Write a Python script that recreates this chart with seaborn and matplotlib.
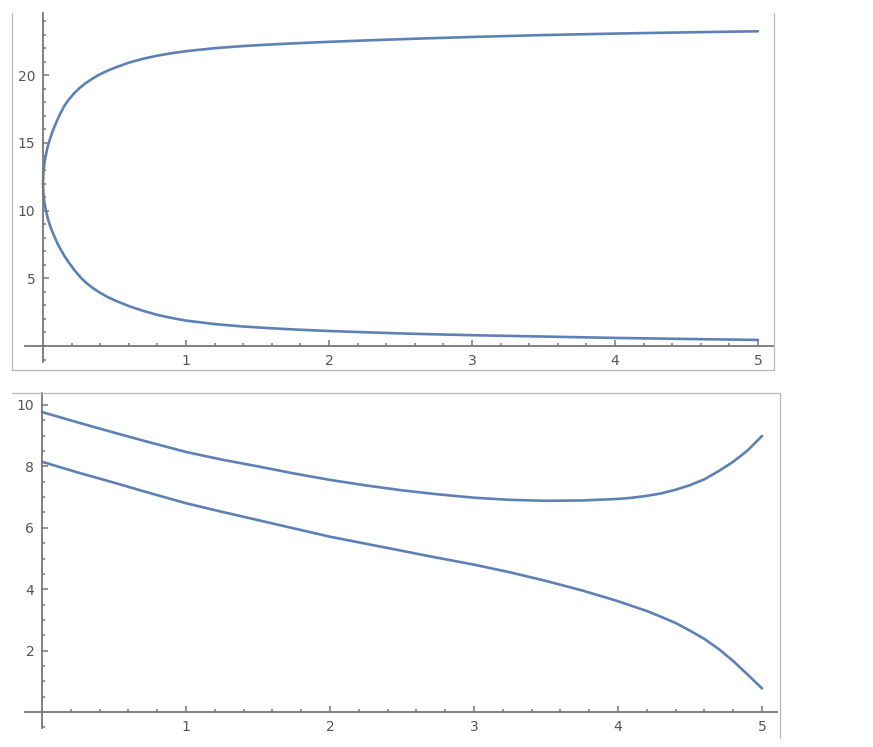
import matplotlib
matplotlib.use("Agg")
import matplotlib.pyplot as plt
from matplotlib.lines import Line2D
from matplotlib.ticker import FixedLocator, MultipleLocator
import seaborn as sns

# ---- data ----
x_top = [0, 0.002, 0.005, 0.01, 0.02, 0.03, 0.04, 0.05, 0.065, 0.08, 0.1, 0.12, 0.15,
         0.18, 0.22, 0.26, 0.3, 0.35, 0.4, 0.45, 0.5, 0.6, 0.7, 0.8, 0.9, 1.0, 1.2, 1.4,
         1.6, 1.8, 2.0, 2.3, 2.6, 3.0, 3.5, 4.0, 4.5, 5.0]
top_upper = [12.0, 12.67, 13.06, 13.5, 14.12, 14.6, 15.0, 15.33, 15.8, 16.2, 16.7, 17.15, 17.75,
             18.2, 18.7, 19.1, 19.43, 19.78, 20.08, 20.33, 20.55, 20.93, 21.22, 21.45, 21.63, 21.78,
             22.0, 22.16, 22.28, 22.38, 22.47, 22.59, 22.7, 22.83, 22.97, 23.08, 23.17, 23.25]
top_lower = [12.0, 11.37, 11.01, 10.6, 10.02, 9.58, 9.2, 8.87, 8.45, 8.08, 7.6, 7.2, 6.65,
             6.17, 5.6, 5.1, 4.68, 4.27, 3.93, 3.63, 3.38, 2.95, 2.6, 2.3, 2.07, 1.88,
             1.62, 1.44, 1.31, 1.2, 1.11, 1.0, 0.9, 0.8, 0.7, 0.6, 0.52, 0.45]

x_bot = [0, 0.25, 0.5, 0.75, 1.0, 1.25, 1.5, 1.75, 2.0, 2.25, 2.5, 2.75, 3.0, 3.25, 3.5,
         3.75, 4.0, 4.1, 4.2, 4.3, 4.4, 4.5, 4.6, 4.7, 4.8, 4.9, 5.0]
bot_upper = [9.77, 9.43, 9.1, 8.78, 8.47, 8.22, 8.0, 7.77, 7.56, 7.38, 7.22, 7.09, 6.98, 6.91, 6.88,
             6.89, 6.94, 6.98, 7.04, 7.12, 7.24, 7.39, 7.58, 7.85, 8.15, 8.52, 8.99]
bot_lower = [8.15, 7.8, 7.47, 7.13, 6.8, 6.52, 6.25, 5.98, 5.71, 5.48, 5.25, 5.02, 4.8, 4.55, 4.27,
             3.96, 3.61, 3.45, 3.29, 3.1, 2.9, 2.65, 2.38, 2.05, 1.66, 1.22, 0.77]

x_major = [1, 2, 3, 4, 5]
top_y_major = [5, 10, 15, 20]
bot_y_major = [2, 4, 6, 8, 10]

sns.set_style("white")
plt.rcParams["font.family"] = ["DejaVu Sans"]

W, H = 873, 747
fig = plt.figure(figsize=(W / 100, H / 100), dpi=100)

LINE = "#5E81B5"
AXC = "#777777"
TXT = "#555555"
BORDER = "#b8b8b8"


def px_axes(x0, y0, x1, y1):
    return fig.add_axes([x0 / W, 1 - y1 / H, (x1 - x0) / W, (y1 - y0) / H])


def style(ax, xlim, ylim, ymaj, ymin_step):
    ax.set_xlim(*xlim)
    ax.set_ylim(*ylim)
    ax.patch.set_alpha(0)
    for s in ("top", "right"):
        ax.spines[s].set_visible(False)
    ax.spines["left"].set_position(("data", 0))
    ax.spines["bottom"].set_position(("data", 0))
    for s in ("left", "bottom"):
        ax.spines[s].set_color(AXC)
        ax.spines[s].set_linewidth(1.3)
    ax.xaxis.set_major_locator(FixedLocator(x_major))
    ax.xaxis.set_minor_locator(MultipleLocator(0.2))
    ax.yaxis.set_major_locator(FixedLocator(ymaj))
    ax.yaxis.set_minor_locator(MultipleLocator(ymin_step))
    ax.tick_params(which="both", direction="in", color=AXC, width=1.1,
                   bottom=True, left=True, top=False, right=False,
                   labelsize=10, labelcolor=TXT)
    ax.tick_params(which="major", length=4.5, pad=5.5)
    ax.tick_params(which="minor", length=2.5)
    ax.set_xlabel("")
    ax.set_ylabel("")


# top panel
ax1 = px_axes(25, 13, 773, 362)
sns.lineplot(x=x_top, y=top_upper, ax=ax1, color=LINE, linewidth=1.9, sort=False, estimator=None)
sns.lineplot(x=x_top, y=top_lower, ax=ax1, color=LINE, linewidth=1.9, sort=False, estimator=None)
style(ax1, (-0.126, 5.105), (-1.18, 24.6), top_y_major, 1)

# bottom panel
ax2 = px_axes(25, 393, 777, 728)
sns.lineplot(x=x_bot, y=bot_upper, ax=ax2, color=LINE, linewidth=1.9, sort=False, estimator=None)
sns.lineplot(x=x_bot, y=bot_lower, ax=ax2, color=LINE, linewidth=1.9, sort=False, estimator=None)
style(ax2, (-0.118, 5.104), (-0.52, 10.39), bot_y_major, 0.5)

# image borders (partial frames as in the reference)
def fline(x0, y0, x1, y1):
    fig.add_artist(Line2D([x0 / W, x1 / W], [1 - y0 / H, 1 - y1 / H],
                          transform=fig.transFigure, color=BORDER, linewidth=0.9))

fline(12, 13, 12, 370)
fline(12, 370, 774, 370)
fline(774, 13, 774, 370)
fline(12, 393, 780, 393)
fline(780, 393, 780, 738)

fig.savefig("out.png", dpi=100)
